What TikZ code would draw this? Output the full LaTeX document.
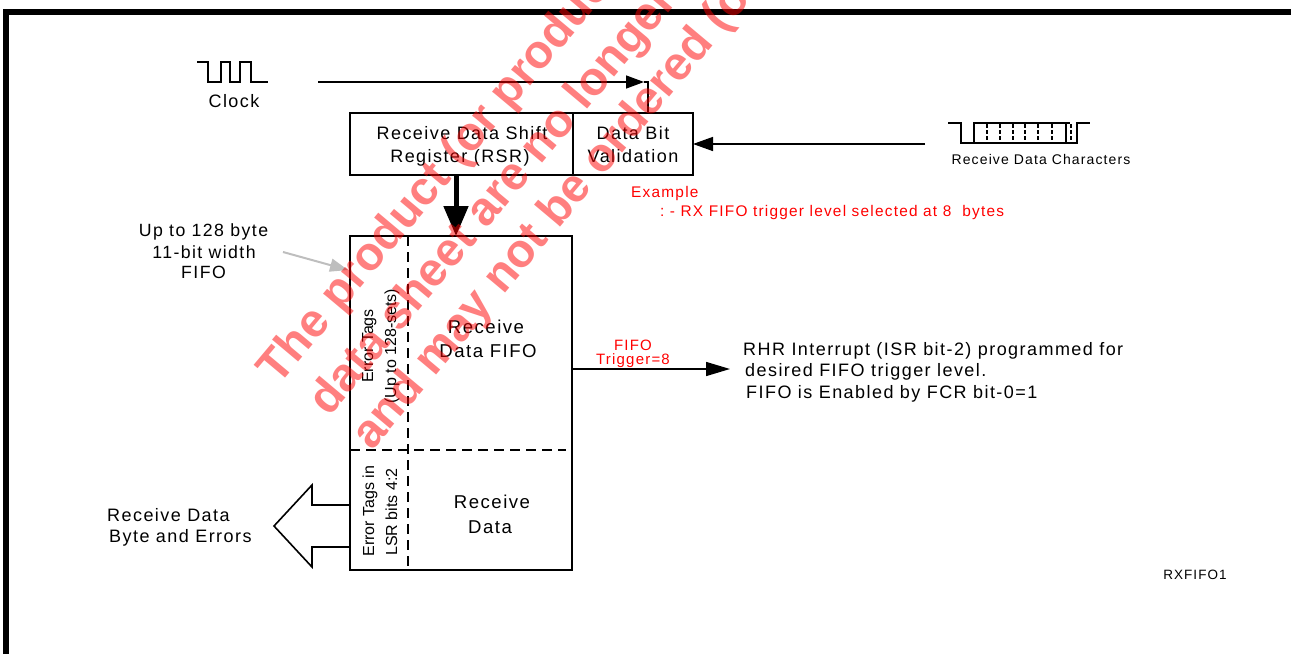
\documentclass[tikz,border=0pt]{standalone}
\usepackage{fontspec}
\setmainfont{Liberation Sans}[LetterSpace=8]
\newfontfamily\plainfont{Liberation Sans}
\usetikzlibrary{arrows.meta}
\definecolor{lgray}{RGB}{190,190,190}
\definecolor{txtred}{RGB}{255,0,0}
\begin{document}
\begin{tikzpicture}[x=1pt,y=-1pt,
  box/.style={draw, line width=1.6pt, inner sep=0pt, outer sep=0pt},
  conn/.style={line width=1.5pt},
  wave/.style={line width=1.6pt, line join=miter},
  dashln/.style={line width=1.6pt, dash pattern=on 10pt off 6pt},
  txt/.style={inner sep=0pt, anchor=base, font=\fontsize{18}{22}\selectfont},
  rtxt/.style={inner sep=0pt, anchor=base, rotate=90, font=\plainfont\fontsize{16}{19}\selectfont},
  rtx/.style={inner sep=0pt, anchor=base west, text=txtred, font=\fontsize{15.4}{18}\selectfont},
  wm/.style={inner sep=0pt, anchor=base west, rotate=50, text=red, text opacity=0.5,
    font=\plainfont\bfseries\fontsize{47}{50}\selectfont}]
\useasboundingbox (0,0) rectangle (1291,654);
% frame
\draw[line width=6pt] (5.5,654) -- (5.5,12) -- (1291,12);

% clock waveform
\draw[wave] (197,62) -- (208,62) -- (208,82) -- (221,82) -- (221,62) -- (230,62) -- (230,82)
  -- (240,82) -- (240,62) -- (251,62) -- (251,82) -- (268,82);
\node[txt] (clk) at (234,107) {Clock};

% RSR and data bit validation
\node[box, minimum width=223pt, minimum height=62pt] (rsr) at (461.5,144) {};
\node[box, minimum width=120pt, minimum height=62pt] (dbv) at (633,144) {};
\node[txt] (rsr1) at (462,139) {Receive Data Shift};
\node[txt] (rsr2) at (460,162) {Register (RSR)};
\node[txt] (dbv1) at (633,139) {Data Bit};
\node[txt] (dbv2) at (633,162) {Validation};

% clock connector
\coordinate (clkA) at (318,82);
\coordinate (clkTip) at (644,82);
\coordinate (clkB) at (648,82);
\draw[conn, -{Triangle[length=18pt,width=13pt]}] (clkA) -- (clkTip);
\draw[conn] (clkTip) -- (clkB) -- (dbv.north -| clkB);

% receive data characters waveform
\draw[wave] (948,123) -- (961,123) -- (961,143) -- (974,143) -- (974,123) -- (1066,123) -- (1066,143) -- (974,143);
\foreach \xx in {987,1000,1013,1025,1038,1052}
  \draw[line width=1.4pt, dash pattern=on 3.5pt off 2.5pt] (\xx,124) -- (\xx,143);
\draw[wave] (1066,123) -- (1070,123);
\draw[wave] (1066,143) -- (1077,143) -- (1077,123) -- (1090,123);
\draw[line width=1.4pt, dash pattern=on 3.5pt off 2.5pt] (1071,124) -- (1071,143);
\node[txt, font=\fontsize{14}{17}\selectfont] (rdc) at (1041,164) {Receive Data Characters};
\coordinate (rdcEnd) at (925,144);
\draw[conn, -{Triangle[length=20pt,width=14pt]}] (rdcEnd) -- (dbv.east);

% example text
\node[rtx] (ex1) at (631,197) {Example};
\node[rtx] (ex2) at (660,216) {:\ -\ RX FIFO trigger level selected at 8\ \ bytes};

% FIFO
\node[box, minimum width=222pt, minimum height=334pt] (fifo) at (461,403) {};
\coordinate (thickx) at (456,0);
\draw[line width=5pt, -{Triangle[length=30pt,width=24pt]}] (rsr.south -| thickx) -- (fifo.north -| thickx);
\coordinate (vdTop) at (408,236);
\coordinate (vdBot) at (408,566);
\draw[dashln] (vdTop) -- (vdBot);
\coordinate (hdL) at (350,450);
\coordinate (hdR) at (566,450);
\draw[dashln] (hdL) -- (hdR);
\node[txt, font=\fontsize{18.6}{22}\selectfont] (ff1) at (486,333) {Receive};
\node[txt, font=\fontsize{18.6}{22}\selectfont] (ff2) at (488,357) {Data FIFO};
\node[rtxt] (et1) at (373,346) {Error Tags};
\node[rtxt] (et2) at (396,346) {(Up to 128-sets)};
\node[rtxt] (et3) at (374,511) {Error Tags in};
\node[rtxt] (et4) at (397,512) {LSR bits 4:2};
\node[txt, font=\fontsize{18.6}{22}\selectfont] (rd1) at (492,508) {Receive};
\node[txt, font=\fontsize{18.6}{22}\selectfont] (rd2) at (490,533) {Data};

% FIFO size label and gray arrow
\node[txt, font=\fontsize{17.7}{21}\selectfont] (up1) at (203.5,236) {Up to 128 byte};
\node[txt, font=\fontsize{17.7}{21}\selectfont] (up2) at (204,258) {11-bit width};
\node[txt, font=\fontsize{17.7}{21}\selectfont] (up3) at (203.5,278) {FIFO};
\coordinate (gA) at (283,252);
\coordinate (gB) at (348,270);
\draw[lgray, line width=2pt, -{Triangle[length=18pt,width=13pt]}] (gA) -- (gB);

% trigger arrow
\coordinate (trigEnd) at (730,369);
\draw[conn, -{Triangle[length=24pt,width=14pt]}] (trigEnd -| fifo.east) -- (trigEnd);
\node[rtx, anchor=base, font=\fontsize{15}{17}\selectfont] (tr1) at (633,350) {FIFO};
\node[rtx, anchor=base, font=\fontsize{15}{17}\selectfont] (tr2) at (633,364) {Trigger=8};
\node[txt, anchor=base west] (rhr1) at (743,355) {RHR Interrupt (ISR bit-2) programmed for};
\node[txt, anchor=base west] (rhr2) at (745,376) {desired FIFO trigger level.};
\node[txt, anchor=base west] (rhr3) at (746,398) {FIFO is Enabled by FCR bit-0=1};

% output hollow arrow
\draw[line width=1.6pt, line join=miter] (fifo.west |- 0,505) -- (312,505) -- (312,485) -- (274,526)
  -- (312,567) -- (312,547) -- (fifo.west |- 0,547);
\node[txt, anchor=base west] (out1) at (107,521) {Receive Data};
\node[txt, anchor=base west] (out2) at (109,542) {Byte and Errors};

\node[txt, font=\fontsize{13.5}{16}\selectfont] (rx) at (1195,579) {RXFIFO1};

% watermark
\begin{scope}
\clip (0,0) rectangle (1291,654);
\node[wm] (wm1) at (278,387) {The product (or products) in this};
\node[wm] (wm2) at (329,418) {data sheet are no longer in production};
\node[wm] (wm3) at (372,452) {and may not be ordered (or};
\end{scope}
\end{tikzpicture}
\end{document}
